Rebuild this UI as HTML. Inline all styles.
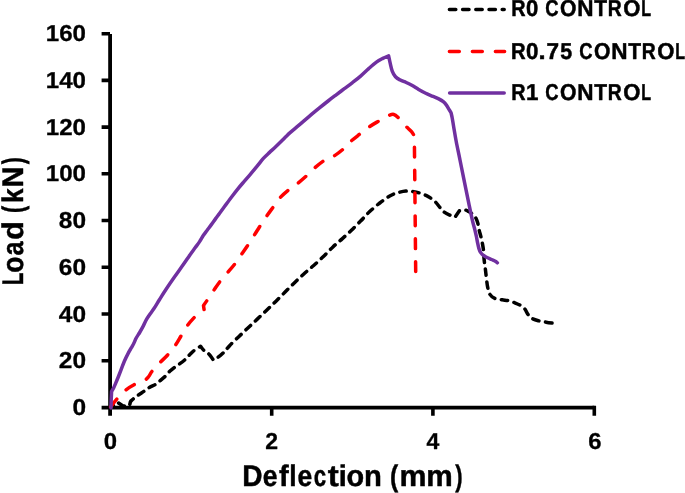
<!DOCTYPE html>
<html><head><meta charset="utf-8"><style>
html,body{margin:0;padding:0;background:#fff;}
svg{display:block;will-change:transform;}
text{font-family:"Liberation Sans",sans-serif;font-weight:bold;fill:#000;text-rendering:geometricPrecision;}
.b text{stroke:#000;stroke-width:0.5px;stroke-linejoin:round;vector-effect:non-scaling-stroke;}
.t text{stroke:#000;stroke-width:0.45px;stroke-linejoin:round;vector-effect:non-scaling-stroke;}
.k text{stroke:#000;stroke-width:0.3px;stroke-linejoin:round;vector-effect:non-scaling-stroke;}
</style></head><body>
<svg width="685" height="493" viewBox="0 0 685 493">
<rect width="685" height="493" fill="#fff"/>
<!-- axes -->
<g stroke="#000" stroke-width="3.6" fill="none" stroke-linecap="butt">
<path d="M110.1,33.9 V415.7" stroke-width="3.8"/>
<path d="M101.6,407.6 H594.3"/>
<path d="M101.6,33.7 H110 M101.6,80.4 H110 M101.6,127.1 H110 M101.6,173.8 H110 M101.6,220.5 H110 M101.6,267.3 H110 M101.6,314 H110 M101.6,360.8 H110"/>
<path d="M271.7,407.6 V415.7 M432.9,407.6 V415.7 M594.3,405.8 V415.7"/>
</g>
<!-- y tick labels -->
<g class="k" font-size="23" text-anchor="end">
<text x="86" y="41.1" textLength="40.2" lengthAdjust="spacingAndGlyphs">160</text>
<text x="86" y="87.9" textLength="40.2" lengthAdjust="spacingAndGlyphs">140</text>
<text x="86" y="134.6" textLength="40.2" lengthAdjust="spacingAndGlyphs">120</text>
<text x="86" y="181.4" textLength="40.2" lengthAdjust="spacingAndGlyphs">100</text>
<text x="86" y="228.2" textLength="27.2" lengthAdjust="spacingAndGlyphs">80</text>
<text x="86" y="274.9" textLength="27.2" lengthAdjust="spacingAndGlyphs">60</text>
<text x="86" y="321.7" textLength="27.2" lengthAdjust="spacingAndGlyphs">40</text>
<text x="86" y="368.4" textLength="27.2" lengthAdjust="spacingAndGlyphs">20</text>
<text x="86" y="415.2" textLength="13.6" lengthAdjust="spacingAndGlyphs">0</text>
</g>
<!-- x tick labels -->
<g class="k" font-size="23" text-anchor="middle">
<text x="110.4" y="449.3" textLength="13.3" lengthAdjust="spacingAndGlyphs">0</text>
<text x="271.7" y="449.3">2</text>
<text x="432.9" y="449.3">4</text>
<text x="594.9" y="449.3" textLength="13.3" lengthAdjust="spacingAndGlyphs">6</text>
</g>
<!-- axis titles -->
<g class="t">
<text transform="translate(242.25,486.45) scale(0.94,1)" font-size="29.8">D</text>
<text transform="translate(262.79,486.45) scale(0.89,1)" font-size="29.8">e</text>
<text transform="translate(279.03,486.45) scale(0.98,1)" font-size="29.8">f</text>
<text transform="translate(289.17,486.45) scale(0.89,1)" font-size="29.8">l</text>
<text transform="translate(297.39,486.45) scale(0.89,1)" font-size="29.8">e</text>
<text transform="translate(313.85,486.45) scale(0.75,1)" font-size="29.8">c</text>
<text transform="translate(327.72,486.45) scale(1.11,1)" font-size="29.8">t</text>
<text transform="translate(338.81,486.45) scale(0.97,1)" font-size="29.8">i</text>
<text transform="translate(346.5,486.45) scale(0.97,1)" font-size="29.8">o</text>
<text transform="translate(364.11,486.45) scale(0.98,1)" font-size="29.8">n</text>
<text transform="translate(389.9,486.45) scale(0.83,1)" font-size="29.8">(</text>
<text transform="translate(399.62,486.45) scale(1.02,1)" font-size="29.8">m</text>
<text transform="translate(426.36,486.45) scale(1,1)" font-size="29.8">m</text>
<text transform="translate(455.3,486.45) scale(0.74,1)" font-size="29.8">)</text>
<g transform="rotate(-90)">
<text transform="translate(-285.35,22.85) scale(0.7,1)" font-size="29.8">L</text>
<text transform="translate(-272.71,22.85) scale(0.89,1)" font-size="29.8">o</text>
<text transform="translate(-255.42,22.85) scale(0.85,1)" font-size="29.8">a</text>
<text transform="translate(-239.72,22.85) scale(1.02,1)" font-size="29.8">d</text>
<text transform="translate(-212.96,22.85) scale(0.73,1)" font-size="29.8">(</text>
<text transform="translate(-203.1,22.85) scale(0.88,1)" font-size="29.8">k</text>
<text transform="translate(-187.6,22.85) scale(0.97,1)" font-size="29.8">N</text>
<text transform="translate(-164.31,22.85) scale(0.7,1)" font-size="29.8">)</text>
</g>
</g>
<!-- legend -->
<g class="b" font-size="23">
<text transform="translate(511.32,16.35) scale(0.86,1)" font-size="23">R</text>
<text transform="translate(525.98,16.35) scale(0.96,1)" font-size="23">0</text>
<text transform="translate(545.29,16.35) scale(0.8,1)" font-size="23">C</text>
<text transform="translate(559.98,16.35) scale(0.92,1)" font-size="23">O</text>
<text transform="translate(577.25,16.35) scale(0.98,1)" font-size="23">N</text>
<text transform="translate(594.32,16.35) scale(0.91,1)" font-size="23">T</text>
<text transform="translate(607.85,16.35) scale(0.84,1)" font-size="23">R</text>
<text transform="translate(623.35,16.35) scale(0.96,1)" font-size="23">O</text>
<text transform="translate(641.34,16.35) scale(0.7,1)" font-size="23">L</text>
<text transform="translate(510.99,58.6) scale(0.88,1)" font-size="23">R</text>
<text transform="translate(526.07,58.6) scale(0.97,1)" font-size="23">0</text>
<text transform="translate(538.62,58.6) scale(1.11,1)" font-size="23">.</text>
<text transform="translate(546.38,58.6) scale(0.98,1)" font-size="23">7</text>
<text transform="translate(560.19,58.6) scale(0.93,1)" font-size="23">5</text>
<text transform="translate(579.29,58.6) scale(0.8,1)" font-size="23">C</text>
<text transform="translate(593.98,58.6) scale(0.92,1)" font-size="23">O</text>
<text transform="translate(611.25,58.6) scale(0.98,1)" font-size="23">N</text>
<text transform="translate(628.32,58.6) scale(0.91,1)" font-size="23">T</text>
<text transform="translate(641.85,58.6) scale(0.84,1)" font-size="23">R</text>
<text transform="translate(657.35,58.6) scale(0.96,1)" font-size="23">O</text>
<text transform="translate(675.34,58.6) scale(0.7,1)" font-size="23">L</text>
<text transform="translate(511.32,99.7) scale(0.86,1)" font-size="23">R</text>
<text transform="translate(526.04,99.7) scale(0.97,1)" font-size="23">1</text>
<text transform="translate(545.29,99.7) scale(0.8,1)" font-size="23">C</text>
<text transform="translate(559.98,99.7) scale(0.92,1)" font-size="23">O</text>
<text transform="translate(577.25,99.7) scale(0.98,1)" font-size="23">N</text>
<text transform="translate(594.32,99.7) scale(0.91,1)" font-size="23">T</text>
<text transform="translate(607.85,99.7) scale(0.84,1)" font-size="23">R</text>
<text transform="translate(623.35,99.7) scale(0.96,1)" font-size="23">O</text>
<text transform="translate(641.34,99.7) scale(0.7,1)" font-size="23">L</text>
</g>
<g fill="none" stroke-width="3.5" stroke-linecap="round" stroke-linejoin="round">
<path d="M449.4,9.5 H504.2" stroke="#000" stroke-dasharray="6.4 6.8"/>
<path d="M449.4,51.45 H504.6" stroke="#ff0000" stroke-dasharray="9.9 13.1"/>
<path d="M449.6,93 H504.2" stroke="#7030a0"/>
</g>
<!-- curves -->
<g fill="none" stroke-width="3.5" stroke-linecap="round" stroke-linejoin="round">
<path id="r0" stroke="#000" stroke-dasharray="6.4 6.571" stroke-dashoffset="2.39" d="M110,407.6 C111.3,406.75 116.5,403.35 117.8,402.5 C118.67,403.08 122.13,405.42 123,406 C124.08,405.92 128.42,405.58 129.5,405.5 C129.67,404.83 130.33,402.17 130.5,401.5 C131.05,401 132.42,399.59 133.78,398.48 C135.15,397.37 136.84,396.11 138.67,394.82 C140.5,393.54 142.89,392.05 144.74,390.77 C146.59,389.5 147.93,388.27 149.76,387.19 C151.59,386.12 153.94,385.46 155.72,384.31 C157.51,383.17 158.86,381.7 160.5,380.31 C162.13,378.93 163.99,377.5 165.53,376 C167.07,374.49 168.21,372.77 169.75,371.29 C171.3,369.81 173.14,368.36 174.82,367.09 C176.51,365.83 178.17,364.97 179.89,363.7 C181.61,362.44 183.49,361.01 185.12,359.51 C186.75,358.01 188.09,356.29 189.68,354.71 C191.26,353.14 192.79,351.48 194.61,350.08 C196.43,348.68 199.6,346.93 200.6,346.3 C201.21,347.05 202.87,349.51 204.28,350.82 C205.7,352.14 207.6,352.67 209.09,354.17 C210.58,355.67 212.51,358.86 213.2,359.8 C213.95,359.42 215.98,358.7 217.69,357.5 C219.39,356.31 221.42,354.6 223.41,352.63 C225.4,350.66 227.09,348.29 229.6,345.67 C232.11,343.05 235.44,339.87 238.48,336.93 C241.53,333.99 244.75,330.98 247.88,328.01 C251.02,325.05 254.11,322.13 257.27,319.12 C260.44,316.12 263.76,312.99 266.88,309.99 C270,306.99 272.98,304.12 276.01,301.14 C279.05,298.16 282.06,295.12 285.1,292.08 C288.14,289.05 291.15,285.94 294.27,282.91 C297.4,279.89 300.6,276.85 303.83,273.94 C307.06,271.02 310.36,268.38 313.68,265.44 C316.99,262.49 320.5,259.33 323.7,256.24 C326.91,253.15 329.86,249.82 332.93,246.91 C336,244.01 339.04,241.61 342.13,238.83 C345.22,236.06 348.38,233.2 351.45,230.24 C354.53,227.28 357.53,224.2 360.57,221.08 C363.61,217.96 366.49,214.54 369.69,211.53 C372.9,208.51 376.45,205.59 379.79,203 C383.13,200.42 386.89,197.7 389.73,196.02 C392.58,194.35 394.18,193.79 396.88,192.97 C399.57,192.15 403.16,191.33 405.93,191.11 C408.71,190.89 411.03,191.29 413.5,191.66 C415.97,192.03 418.36,192.56 420.75,193.34 C423.14,194.13 426.06,195.51 427.83,196.38 C429.6,197.26 430.05,197.62 431.34,198.57 C432.64,199.52 434.15,200.6 435.59,202.09 C437.02,203.58 438.55,205.83 439.96,207.49 C441.38,209.15 442.45,210.8 444.07,212.06 C445.7,213.32 447.84,214.28 449.71,215.07 C451.58,215.87 454.37,216.51 455.3,216.8 C455.98,215.8 458.72,211.8 459.4,210.8 C460.21,210.64 462.76,209.74 464.26,209.82 C465.77,209.91 467.12,210.69 468.41,211.33 C469.7,211.97 470.84,212.67 472.01,213.66 C473.19,214.66 474.47,215.69 475.44,217.29 C476.4,218.9 477.23,221.25 477.83,223.32 C478.43,225.4 478.52,227.45 479.05,229.75 C479.59,232.06 480.47,234.78 481.03,237.13 C481.6,239.49 482.07,241.73 482.47,243.89 C482.88,246.06 483.23,247.98 483.46,250.12 C483.7,252.26 483.7,254.6 483.88,256.75 C484.05,258.91 484.27,261.07 484.51,263.05 C484.75,265.02 485.02,266.32 485.31,268.6 C485.61,270.87 485.88,273.63 486.26,276.69 C486.64,279.76 486.99,284.03 487.61,286.98 C488.22,289.94 488.72,292.5 489.93,294.42 C491.15,296.34 492.83,297.61 494.88,298.5 C496.93,299.4 499.91,299.41 502.26,299.8 C504.61,300.19 506.82,300.3 509,300.84 C511.18,301.38 513.39,302.22 515.37,303.01 C517.34,303.81 519.28,304.6 520.88,305.61 C522.47,306.62 523.8,307.65 524.94,309.07 C526.09,310.5 526.64,312.63 527.74,314.14 C528.83,315.66 529.74,317.08 531.5,318.17 C533.26,319.27 535.87,320.05 538.32,320.72 C540.77,321.39 543.63,321.74 546.18,322.17 C548.73,322.6 552.36,323.11 553.6,323.3"/>
<path id="r075" stroke="#ff0000" stroke-dasharray="9.7 13.15" stroke-dashoffset="-1.15" d="M110,407.6 C111.16,406.16 114.44,401.79 116.94,398.95 C119.44,396.12 122.18,392.97 125.03,390.61 C127.88,388.25 130.84,386.48 134.05,384.78 C137.27,383.08 141.89,381.78 144.33,380.4 C146.77,379.03 147.4,378.04 148.69,376.5 C149.99,374.97 150.3,373.43 152.11,371.17 C153.93,368.91 157.03,365.66 159.61,362.97 C162.19,360.28 165.01,357.91 167.6,355.02 C170.19,352.13 172.89,348.82 175.14,345.63 C177.39,342.44 179.08,339.16 181.07,335.88 C183.07,332.6 185.01,328.94 187.11,325.98 C189.2,323.01 191.55,320.29 193.64,318.11 C195.73,315.92 197.93,314.26 199.67,312.88 C201.41,311.49 203.36,310.31 204.1,309.8 C204,309.08 203.6,306.22 203.5,305.5 C204.11,304.63 205.46,302.76 207.14,300.28 C208.83,297.8 211.44,293.77 213.6,290.6 C215.77,287.43 217.76,284.33 220.13,281.28 C222.5,278.24 225.36,275.24 227.82,272.33 C230.28,269.43 232.63,266.8 234.87,263.87 C237.1,260.93 239.05,257.92 241.25,254.75 C243.45,251.58 245.89,248.11 248.08,244.83 C250.27,241.55 252.36,238.22 254.38,235.05 C256.4,231.88 258.13,228.98 260.18,225.82 C262.23,222.66 264.5,219.24 266.7,216.08 C268.9,212.92 271.11,209.96 273.4,206.83 C275.69,203.71 277.83,200.22 280.44,197.33 C283.06,194.44 286.17,191.86 289.09,189.5 C292,187.14 295.04,185.44 297.94,183.16 C300.84,180.88 303.66,178.41 306.5,175.83 C309.34,173.25 312.12,170.19 315,167.68 C317.88,165.17 320.67,162.68 323.75,160.78 C326.84,158.89 330.39,158.14 333.5,156.31 C336.62,154.47 339.59,152.23 342.43,149.77 C345.28,147.3 347.72,144.11 350.59,141.51 C353.47,138.92 356.51,136.66 359.66,134.19 C362.82,131.72 366.32,128.87 369.53,126.66 C372.75,124.46 375.85,122.77 378.96,120.95 C382.08,119.13 385.74,116.82 388.22,115.73 C390.7,114.65 392.14,114.1 393.85,114.46 C395.56,114.82 396.59,116.02 398.48,117.87 C400.37,119.72 403.01,123.24 405.18,125.55 C407.36,127.85 410.02,129.96 411.54,131.7 C413.05,133.44 413.84,135.28 414.3,136 C414.36,141.03 414.42,143.53 414.65,166.2 C414.88,188.87 415.52,254.37 415.7,272"/>
<path id="r1" stroke="#7030a0" d="M111,408 C111.03,406.7 111.08,402.95 111.18,400.18 C111.28,397.41 111.53,392.86 111.6,391.4 C111.93,390.83 112.91,389.36 113.6,387.98 C114.29,386.6 114.94,384.93 115.72,383.1 C116.5,381.27 117.36,379.22 118.26,376.98 C119.16,374.74 120.1,372.29 121.12,369.66 C122.14,367.03 123.19,363.92 124.36,361.2 C125.53,358.48 126.99,355.57 128.16,353.32 C129.33,351.07 130.43,349.38 131.38,347.7 C132.33,346.02 133.04,344.85 133.84,343.24 C134.64,341.63 135.21,339.85 136.2,338.02 C137.19,336.19 138.61,334.28 139.8,332.26 C140.99,330.24 142.24,328.01 143.34,325.92 C144.44,323.83 145.26,321.67 146.38,319.7 C147.5,317.73 148.77,315.96 150.04,314.1 C151.31,312.24 152.39,310.98 153.98,308.54 C155.57,306.1 157.56,302.67 159.58,299.46 C161.6,296.25 163.6,292.99 166.08,289.26 C168.56,285.53 171.57,281.17 174.44,277.06 C177.31,272.95 180.74,268.26 183.32,264.58 C185.9,260.9 187.96,257.8 189.92,255 C191.88,252.2 193.49,250.03 195.1,247.8 C196.71,245.57 198.19,243.68 199.58,241.6 C200.97,239.52 202.12,237.23 203.42,235.3 C204.72,233.37 206.03,231.82 207.38,230 C208.73,228.18 210.15,226.29 211.52,224.4 C212.89,222.51 214.3,220.46 215.62,218.64 C216.94,216.82 217.87,215.62 219.44,213.48 C221.01,211.34 223.08,208.45 225.04,205.78 C227,203.11 229.12,200.22 231.2,197.48 C233.28,194.74 235.33,192 237.5,189.32 C239.67,186.64 242,183.97 244.2,181.4 C246.4,178.83 248.51,176.47 250.7,173.9 C252.89,171.33 255.21,168.56 257.32,165.98 C259.43,163.4 261.36,160.65 263.36,158.42 C265.36,156.19 267.31,154.51 269.32,152.62 C271.33,150.73 273.4,148.97 275.4,147.08 C277.4,145.19 279.53,143.06 281.3,141.3 C283.07,139.54 284.5,138.01 286.02,136.52 C287.54,135.03 288.24,134.27 290.4,132.38 C292.56,130.49 295.84,127.86 298.98,125.18 C302.12,122.5 305.85,119.18 309.26,116.3 C312.67,113.42 316.3,110.47 319.44,107.92 C322.58,105.37 325.31,103.19 328.1,101 C330.89,98.81 333.5,96.85 336.2,94.8 C338.9,92.75 341.61,90.73 344.32,88.7 C347.03,86.67 349.77,84.7 352.48,82.6 C355.19,80.5 357.9,78.43 360.6,76.1 C363.3,73.77 366.07,70.93 368.7,68.6 C371.33,66.27 374.05,63.82 376.4,62.12 C378.75,60.42 380.79,59.45 382.82,58.4 C384.85,57.35 387.64,56.23 388.6,55.8 C388.85,56.99 389.52,60.39 390.12,62.94 C390.72,65.49 391.33,68.79 392.22,71.1 C393.11,73.41 394.13,75.28 395.48,76.78 C396.83,78.28 398.53,79.12 400.32,80.08 C402.11,81.04 404.2,81.6 406.2,82.52 C408.2,83.44 410.23,84.43 412.3,85.58 C414.37,86.73 416.37,88.14 418.6,89.42 C420.83,90.7 423.3,92.12 425.7,93.28 C428.1,94.44 430.85,95.42 433.02,96.36 C435.19,97.3 437.03,98.01 438.74,98.9 C440.45,99.79 442,100.66 443.28,101.7 C444.56,102.74 445.49,103.89 446.42,105.12 C447.35,106.35 448.08,107.83 448.84,109.08 C449.6,110.33 450.64,112.01 451,112.6 C451.2,113.49 451.76,115.61 452.2,117.96 C452.64,120.31 452.99,122.77 453.66,126.7 C454.33,130.63 455.19,136.13 456.22,141.54 C457.25,146.95 458.56,152.91 459.82,159.14 C461.08,165.37 462.3,171.55 463.8,178.92 C465.3,186.29 467.36,196.42 468.8,203.38 C470.24,210.34 471.45,216.3 472.46,220.7 C473.47,225.1 474.21,227.17 474.86,229.8 C475.51,232.43 475.92,234.33 476.38,236.5 C476.84,238.67 477.18,240.86 477.6,242.84 C478.02,244.82 478.39,246.77 478.88,248.36 C479.37,249.95 479.85,251.25 480.56,252.38 C481.27,253.51 482.06,254.27 483.14,255.12 C484.22,255.97 485.65,256.77 487.06,257.5 C488.47,258.23 490.24,258.9 491.62,259.52 C493,260.14 494.36,260.65 495.32,261.2 C496.28,261.75 497.05,262.53 497.4,262.8"/>
</g>
</svg>
</body></html>
